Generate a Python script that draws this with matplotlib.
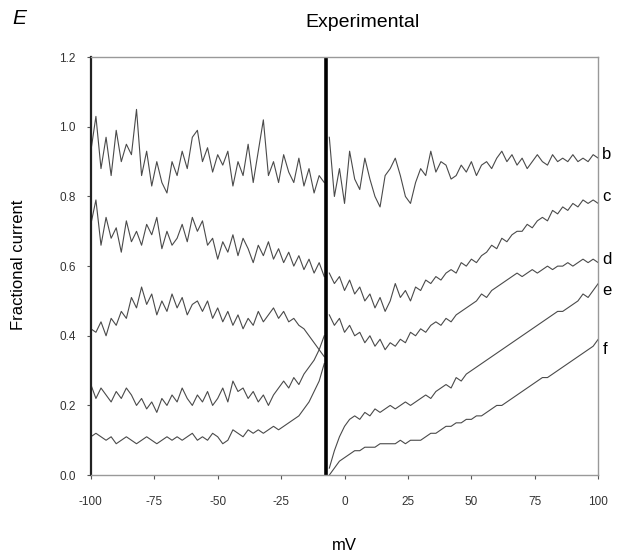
import numpy as np
import matplotlib
matplotlib.use('Agg')
import matplotlib.pyplot as plt

plt.rcParams['font.family'] = ['Liberation Sans', 'DejaVu Sans']
plt.rcParams['axes.unicode_minus'] = False

# voltage grid (mV) on each side of the reversal transient
mv_left = np.arange(-100, -7, 2)    # -100 .. -8
mv_right = np.arange(-6, 101, 2)    # -6 .. 100
spike_mv = -7.3                     # capacitive transient at the step

b_left = [0.93, 1.03, 0.88, 0.97, 0.86, 0.99, 0.90, 0.95, 0.92, 1.05,
          0.86, 0.93, 0.83, 0.90, 0.84, 0.81, 0.90, 0.86, 0.93, 0.88,
          0.97, 0.99, 0.90, 0.94, 0.87, 0.92, 0.89, 0.93, 0.83, 0.90,
          0.86, 0.95, 0.84, 0.93, 1.02, 0.86, 0.90, 0.84, 0.92, 0.87,
          0.84, 0.91, 0.83, 0.88, 0.81, 0.86, 0.84]
b_right = [0.97, 0.80, 0.88, 0.78, 0.93, 0.85, 0.82, 0.91, 0.85, 0.80,
           0.77, 0.86, 0.88, 0.91, 0.86, 0.80, 0.78, 0.84, 0.88, 0.86,
           0.93, 0.87, 0.90, 0.89, 0.85, 0.86, 0.89, 0.87, 0.90, 0.86,
           0.89, 0.90, 0.88, 0.91, 0.93, 0.90, 0.92, 0.89, 0.91, 0.88,
           0.90, 0.92, 0.90, 0.89, 0.92, 0.90, 0.91, 0.90, 0.92, 0.90,
           0.91, 0.90, 0.92, 0.91]

c_left = [0.72, 0.79, 0.66, 0.74, 0.68, 0.71, 0.64, 0.73, 0.67, 0.70,
          0.66, 0.72, 0.69, 0.74, 0.65, 0.70, 0.66, 0.68, 0.72, 0.67,
          0.74, 0.70, 0.73, 0.66, 0.68, 0.62, 0.67, 0.64, 0.69, 0.63,
          0.68, 0.65, 0.61, 0.66, 0.63, 0.67, 0.62, 0.65, 0.61, 0.64,
          0.60, 0.63, 0.59, 0.62, 0.58, 0.61, 0.57]
c_right = [0.58, 0.55, 0.57, 0.53, 0.56, 0.52, 0.54, 0.50, 0.52, 0.48,
           0.51, 0.47, 0.50, 0.55, 0.51, 0.53, 0.50, 0.54, 0.53, 0.56,
           0.55, 0.57, 0.56, 0.58, 0.59, 0.58, 0.61, 0.60, 0.62, 0.61,
           0.63, 0.64, 0.66, 0.65, 0.68, 0.67, 0.69, 0.70, 0.70, 0.72,
           0.71, 0.73, 0.74, 0.73, 0.76, 0.75, 0.77, 0.76, 0.78, 0.77,
           0.79, 0.78, 0.79, 0.78]

d_left = [0.42, 0.41, 0.44, 0.40, 0.45, 0.43, 0.47, 0.45, 0.51, 0.48,
          0.54, 0.49, 0.52, 0.46, 0.50, 0.47, 0.52, 0.48, 0.51, 0.46,
          0.49, 0.50, 0.47, 0.50, 0.45, 0.48, 0.44, 0.47, 0.43, 0.46,
          0.42, 0.45, 0.43, 0.47, 0.44, 0.46, 0.48, 0.45, 0.47, 0.44,
          0.45, 0.43, 0.42, 0.40, 0.38, 0.36, 0.34]
d_right = [0.46, 0.43, 0.45, 0.41, 0.43, 0.40, 0.41, 0.38, 0.40, 0.37,
           0.39, 0.36, 0.38, 0.37, 0.39, 0.38, 0.41, 0.40, 0.42, 0.41,
           0.43, 0.44, 0.43, 0.45, 0.44, 0.46, 0.47, 0.48, 0.49, 0.50,
           0.52, 0.51, 0.53, 0.54, 0.55, 0.56, 0.57, 0.58, 0.57, 0.58,
           0.59, 0.58, 0.59, 0.60, 0.59, 0.60, 0.60, 0.61, 0.60, 0.61,
           0.62, 0.61, 0.62, 0.61]

e_left = [0.26, 0.22, 0.25, 0.23, 0.21, 0.24, 0.22, 0.25, 0.23, 0.20,
          0.22, 0.19, 0.21, 0.18, 0.22, 0.20, 0.23, 0.21, 0.25, 0.22,
          0.20, 0.23, 0.21, 0.24, 0.20, 0.22, 0.25, 0.21, 0.27, 0.24,
          0.25, 0.22, 0.24, 0.21, 0.23, 0.20, 0.23, 0.25, 0.27, 0.25,
          0.28, 0.26, 0.29, 0.31, 0.33, 0.36, 0.40]
e_right = [0.02, 0.07, 0.11, 0.14, 0.16, 0.17, 0.16, 0.18, 0.17, 0.19,
           0.18, 0.19, 0.20, 0.19, 0.20, 0.21, 0.20, 0.21, 0.22, 0.23,
           0.22, 0.24, 0.25, 0.26, 0.25, 0.28, 0.27, 0.29, 0.30, 0.31,
           0.32, 0.33, 0.34, 0.35, 0.36, 0.37, 0.38, 0.39, 0.40, 0.41,
           0.42, 0.43, 0.44, 0.45, 0.46, 0.47, 0.47, 0.48, 0.49, 0.50,
           0.52, 0.51, 0.53, 0.55]

f_left = [0.11, 0.12, 0.11, 0.10, 0.11, 0.09, 0.10, 0.11, 0.10, 0.09,
          0.10, 0.11, 0.10, 0.09, 0.10, 0.11, 0.10, 0.11, 0.10, 0.11,
          0.12, 0.10, 0.11, 0.10, 0.12, 0.11, 0.09, 0.10, 0.13, 0.12,
          0.11, 0.13, 0.12, 0.13, 0.12, 0.13, 0.14, 0.13, 0.14, 0.15,
          0.16, 0.17, 0.19, 0.21, 0.24, 0.27, 0.32]
f_right = [0.00, 0.02, 0.04, 0.05, 0.06, 0.07, 0.07, 0.08, 0.08, 0.08,
           0.09, 0.09, 0.09, 0.09, 0.10, 0.09, 0.10, 0.10, 0.10, 0.11,
           0.12, 0.12, 0.13, 0.14, 0.14, 0.15, 0.15, 0.16, 0.16, 0.17,
           0.17, 0.18, 0.19, 0.20, 0.20, 0.21, 0.22, 0.23, 0.24, 0.25,
           0.26, 0.27, 0.28, 0.28, 0.29, 0.30, 0.31, 0.32, 0.33, 0.34,
           0.35, 0.36, 0.37, 0.39]

trace_names = ['b', 'c', 'd', 'e', 'f']
lefts = [b_left, c_left, d_left, e_left, f_left]
rights = [b_right, c_right, d_right, e_right, f_right]
label_y = [0.92, 0.80, 0.62, 0.53, 0.36]

fig = plt.figure(figsize=(6.18, 5.55), dpi=100)
ax = fig.add_axes([0.147, 0.144, 0.821, 0.753])

for name, yl, yr in zip(trace_names, lefts, rights):
    ax.plot(mv_left, yl, color='#4a4a4a', lw=0.8)
    ax.plot(mv_right, yr, color='#4a4a4a', lw=0.8)

ax.axvline(spike_mv, color='black', lw=2.6)

for name, y in zip(trace_names, label_y):
    ax.text(1.008, y / 1.2, name, transform=ax.transAxes, fontsize=12,
            va='center', ha='left')

ax.set_xlim(-100, 100)
ax.set_ylim(0, 1.2)
ax.set_xticks(np.arange(-100, 101, 25))
ax.set_yticks(np.arange(0, 1.21, 0.2))
ax.set_yticklabels(['%.1f' % v for v in np.arange(0, 1.21, 0.2)])
ax.tick_params(direction='out', length=3, width=0.8, colors='#555555',
               labelcolor='#333333', labelsize=8.5)
ax.tick_params(axis='x', pad=12)
ax.tick_params(axis='y', pad=8)
for s in ['top', 'right', 'bottom']:
    ax.spines[s].set_color('#999999')
    ax.spines[s].set_linewidth(1.0)
ax.spines['left'].set_color('#222222')
ax.spines['left'].set_linewidth(1.6)

fig.text(0.587, 0.96, 'Experimental', fontsize=14, ha='center', va='center')
fig.text(0.032, 0.967, 'E', fontsize=15, style='italic', ha='center', va='center')
fig.text(0.03, 0.522, 'Fractional current', fontsize=12, rotation=90,
         ha='center', va='center')
fig.text(0.558, 0.018, 'mV', fontsize=12, ha='center', va='center')

fig.savefig('out.png', dpi=100)
